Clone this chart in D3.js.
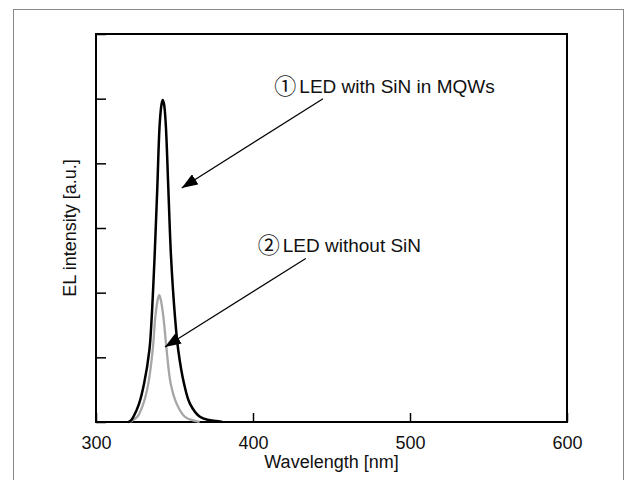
<!DOCTYPE html>
<html>
<head>
<meta charset="utf-8">
<script src="https://cdn.jsdelivr.net/npm/d3@7"></script>
<style>
  body { margin: 0; background: #fff; }
  svg { display: block; }
</style>
</head>
<body>
<div id="chart"></div>
<script>
// wavelength [nm] and EL intensity [a.u.]
const withSiNWave = [320.4, 321.7, 323.8, 327.4, 330.6, 334.0, 335.5, 337.4, 339.0, 340.6, 341.8, 342.5, 343.3, 344.4, 346.1, 347.8, 350.3, 352.4, 356.1, 359.9, 366.2, 372.0, 379.0, 380.3]
const withSiNValue = [0, 0.01, 0.08, 0.28, 0.59, 1.11, 1.63, 2.60, 3.59, 4.62, 4.92, 4.98, 4.92, 4.62, 3.59, 2.55, 1.63, 1.11, 0.59, 0.28, 0.08, 0.03, 0.01, 0]

const withoutSiNWave = [321.7, 326.3, 330.1, 333.3, 336.1, 337.8, 339.4, 340.3, 341.2, 342.9, 345.0, 347.6, 351.4, 356.7, 364.3, 366.0]
const withoutSiNValue = [0, 0.08, 0.28, 0.59, 1.11, 1.63, 1.90, 1.96, 1.90, 1.63, 1.11, 0.59, 0.28, 0.08, 0.01, 0]

const xTicks = [300, 400, 500, 600]
const yTicks = [0, 1, 2, 3, 4, 5, 6]

// annotation: number, label, anchor [nm, a.u.], arrow start and arrow tip
const notes = [
  { num: '\u2460', text: 'LED with SiN in MQWs', at: [413.6, 5.08], from: [444.6, 5.0], to: [354.6, 3.62] },
  { num: '\u2461', text: 'LED without SiN', at: [403.0, 2.63], from: [433.6, 2.53], to: [343.9, 1.16] }
]

const width = 632
const height = 480
const margin = { top: 34, right: 65, bottom: 58, left: 96 }

const svg = d3.select('#chart')
  .append('svg')
  .attr('width', width)
  .attr('height', height)
  .style('font', '18px "Liberation Sans", Arial, sans-serif')

// outer frame
svg.append('rect')
  .attr('x', 13.5).attr('y', 9.5)
  .attr('width', 610).attr('height', 480)
  .attr('fill', 'none')
  .attr('stroke', '#888')

const x = d3.scaleLinear().domain([300, 600]).range([margin.left, width - margin.right])
const y = d3.scaleLinear().domain([0, 6]).range([height - margin.bottom, margin.top])

svg.append('defs').append('marker')
  .attr('id', 'head')
  .attr('viewBox', '0 0 16 12')
  .attr('refX', 16).attr('refY', 6)
  .attr('markerWidth', 16).attr('markerHeight', 12)
  .attr('markerUnits', 'userSpaceOnUse')
  .attr('orient', 'auto')
  .append('path')
  .attr('d', 'M0,0L16,6L0,12Z')
  .attr('fill', '#000')

// bottom axis with inward ticks
svg.append('g')
  .attr('transform', 'translate(0,' + y(0) + ')')
  .call(d3.axisBottom(x).tickValues(xTicks).tickSize(-9).tickPadding(14).tickFormat(d3.format('d')))
  .call(g => g.select('.domain').remove())
  .call(g => g.selectAll('.tick line').attr('stroke-width', 1.5))
  .call(g => g.selectAll('.tick text').attr('font-size', 18).attr('fill', '#111'))

// left axis, ticks only
svg.append('g')
  .attr('transform', 'translate(' + x(300) + ',0)')
  .call(d3.axisLeft(y).tickValues(yTicks).tickSize(-10).tickFormat(''))
  .call(g => g.select('.domain').remove())
  .call(g => g.selectAll('.tick line').attr('stroke-width', 1.5))

// plot frame
svg.append('rect')
  .attr('x', x(300)).attr('y', y(6))
  .attr('width', x(600) - x(300)).attr('height', y(0) - y(6))
  .attr('fill', 'none')
  .attr('stroke', '#000')
  .attr('stroke-width', 2)

const line = d3.line()
  .x(d => x(d[0]))
  .y(d => y(d[1]))
  .curve(d3.curveCatmullRom.alpha(0.5))

svg.append('path')
  .datum(d3.zip(withoutSiNWave, withoutSiNValue))
  .attr('d', line)
  .attr('fill', 'none')
  .attr('stroke', '#a6a6a6')
  .attr('stroke-width', 2.3)

svg.append('path')
  .datum(d3.zip(withSiNWave, withSiNValue))
  .attr('d', line)
  .attr('fill', 'none')
  .attr('stroke', '#000')
  .attr('stroke-width', 2.5)

notes.forEach(n => {
  svg.append('line')
    .attr('x1', x(n.from[0])).attr('y1', y(n.from[1]))
    .attr('x2', x(n.to[0])).attr('y2', y(n.to[1]))
    .attr('stroke', '#000')
    .attr('stroke-width', 1.2)
    .attr('marker-end', 'url(#head)')
  const t = svg.append('text')
    .attr('x', x(n.at[0])).attr('y', y(n.at[1]))
    .attr('fill', '#111')
    .style('font-size', '19px')
  t.append('tspan')
    .style('font-family', '"Noto Sans CJK JP", "DejaVu Sans", sans-serif')
    .style('font-size', '22px')
    .attr('dy', 1)
    .text(n.num)
  t.append('tspan')
    .attr('dx', 3)
    .attr('dy', -1)
    .text(n.text)
})

svg.append('text')
  .attr('x', (x(300) + x(600)) / 2)
  .attr('y', 468)
  .attr('text-anchor', 'middle')
  .attr('fill', '#111')
  .text('Wavelength [nm]')

svg.append('text')
  .attr('transform', 'translate(76,' + (y(0) + y(6)) / 2 + ') rotate(-90)')
  .attr('text-anchor', 'middle')
  .attr('fill', '#111')
  .text('EL intensity [a.u.]')
</script>
</body>
</html>
